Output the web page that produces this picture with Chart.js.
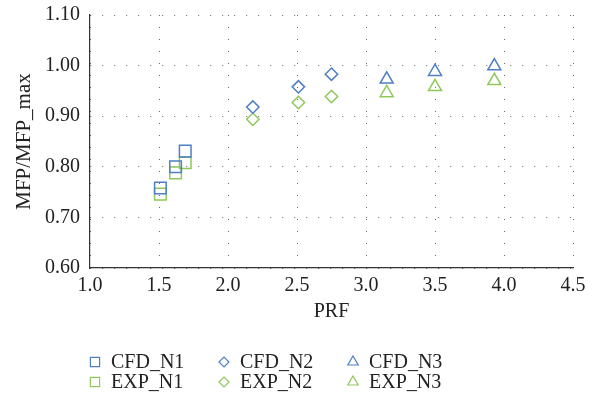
<!DOCTYPE html>
<html>
<head>
<meta charset="utf-8">
<script src="https://cdn.jsdelivr.net/npm/chart.js@4/dist/chart.umd.min.js"></script>
<style>
  html, body { margin: 0; padding: 0; background: #fff; }
  #wrap { width: 603px; height: 398px; position: relative; }
</style>
</head>
<body>
<div id="wrap"><canvas id="grafico"></canvas></div>
<script>
// valores
const prfN1 = [1.51, 1.62, 1.69];
const cfdN1 = [0.758, 0.800, 0.831];
const expN1 = [0.746, 0.788, 0.808];

const prfN2 = [2.18, 2.51, 2.75];
const cfdN2 = [0.918, 0.958, 0.983];
const expN2 = [0.894, 0.927, 0.939];

const prfN3 = [3.15, 3.50, 3.93];
const cfdN3 = [0.973, 0.988, 0.999];
const expN3 = [0.946, 0.958, 0.970];

const azul = '#4f7fc4';
const verde = '#8ec95a';
const fuente = "'Liberation Serif', 'DejaVu Serif', serif";

function puntos(xs, ys) {
  return xs.map((x, i) => ({ x: x, y: ys[i] }));
}

function serie(label, xs, ys, color, estilo, radio) {
  return {
    label: label,
    data: puntos(xs, ys),
    pointStyle: estilo,
    pointRadius: radio,
    pointHoverRadius: radio,
    pointBorderWidth: 1.5,
    borderColor: color,
    pointBorderColor: color,
    backgroundColor: 'rgba(0,0,0,0)',
    pointBackgroundColor: 'rgba(0,0,0,0)'
  };
}

// leyenda dibujada a mano: 3 columnas, 2 filas
const leyenda = {
  id: 'leyenda',
  afterDraw(chart) {
    const ctx = chart.ctx;
    const cols = [95, 224, 353];
    const filas = [362, 382];
    ctx.save();
    ctx.font = '20px ' + fuente;
    ctx.textBaseline = 'middle';
    chart.data.datasets.forEach((ds, i) => {
      const cx = cols[i % 3];
      const cy = filas[Math.floor(i / 3)];
      ctx.strokeStyle = ds.borderColor;
      ctx.fillStyle = 'rgba(0,0,0,0)';
      ctx.lineWidth = 1.2;
      const r = ds.pointStyle === 'rect' ? 6.5 : (ds.pointStyle === 'triangle' ? 6 : 5);
      Chart.helpers.drawPoint(ctx, { pointStyle: ds.pointStyle, radius: r, rotation: 0, borderWidth: 1.2 }, cx, cy);
      ctx.fillStyle = '#222';
      ctx.fillText(ds.label, cx + 16, cy + 1);
    });
    ctx.restore();
  }
};

const ctx = document.getElementById('grafico').getContext('2d');
new Chart(ctx, {
  type: 'scatter',
  data: {
    datasets: [
      serie('CFD_N1', prfN1, cfdN1, azul, 'rect', 8.2),
      serie('CFD_N2', prfN2, cfdN2, azul, 'rectRot', 6.2),
      serie('CFD_N3', prfN3, cfdN3, azul, 'triangle', 7.5),
      serie('EXP_N1', prfN1, expN1, verde, 'rect', 8.2),
      serie('EXP_N2', prfN2, expN2, verde, 'rectRot', 6.2),
      serie('EXP_N3', prfN3, expN3, verde, 'triangle', 7.5)
    ]
  },
  options: {
    responsive: true,
    maintainAspectRatio: false,
    animation: false,
    layout: { padding: { left: 0, right: 30, top: 15, bottom: 68 } },
    plugins: {
      legend: { display: false },
      tooltip: { enabled: false }
    },
    scales: {
      x: {
        type: 'linear',
        min: 1.0,
        max: 4.5,
        afterFit(scale) { scale.height = 62; },
        ticks: {
          stepSize: 0.5,
          padding: 6,
          color: '#222',
          font: { family: fuente, size: 20 },
          callback: v => v.toFixed(1)
        },
        grid: { color: '#666', lineWidth: 1, drawTicks: false },
        border: { display: true, color: '#333', width: 1.2, dash: [1, 11] },
        title: {
          display: true,
          text: 'PRF',
          color: '#222',
          font: { family: fuente, size: 20 },
          padding: { top: 0, bottom: 6 }
        }
      },
      y: {
        min: 0.6,
        max: 1.1,
        afterFit(scale) {
          scale.width = 90;
          scale.paddingTop = 0;
          scale.paddingBottom = 0;
        },
        ticks: {
          stepSize: 0.1,
          padding: 10,
          color: '#222',
          font: { family: fuente, size: 20 },
          callback: v => v.toFixed(2)
        },
        grid: { color: '#666', lineWidth: 1, drawTicks: false },
        border: { display: true, color: '#333', width: 1.2, dash: [1, 11] },
        title: {
          display: true,
          text: 'MFP/MFP_max',
          color: '#222',
          font: { family: fuente, size: 21 },
          padding: { top: 12, bottom: 4 }
        }
      }
    }
  },
  plugins: [leyenda]
});
</script>
</body>
</html>
